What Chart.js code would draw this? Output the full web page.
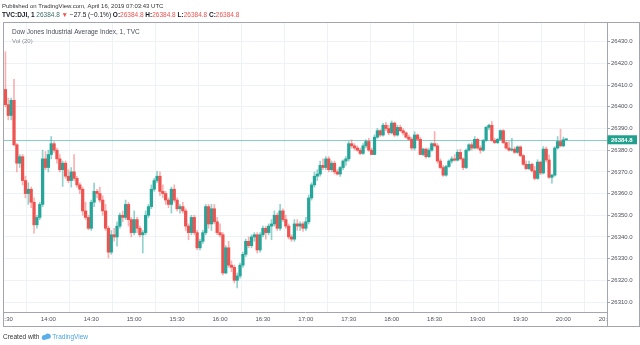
<!DOCTYPE html>
<html>
<head>
<meta charset="utf-8">
<script src="https://cdn.jsdelivr.net/npm/chart.js@4.4.1/dist/chart.umd.min.js"></script>
<style>
  html, body { margin: 0; padding: 0; background: #fff; }
  #c { display: block; }
</style>
</head>
<body>
<canvas id="c" width="640" height="345"></canvas>
<script>
const times = [
  '13:30','13:32','13:34','13:36','13:38','13:40','13:42','13:44','13:46','13:48','13:50','13:52','13:54','13:56','13:58',
  '14:00','14:02','14:04','14:06','14:08','14:10','14:12','14:14','14:16','14:18','14:20','14:22','14:24','14:26','14:28',
  '14:30','14:32','14:34','14:36','14:38','14:40','14:42','14:44','14:46','14:48','14:50','14:52','14:54','14:56','14:58',
  '15:00','15:02','15:04','15:06','15:08','15:10','15:12','15:14','15:16','15:18','15:20','15:22','15:24','15:26','15:28',
  '15:30','15:32','15:34','15:36','15:38','15:40','15:42','15:44','15:46','15:48','15:50','15:52','15:54','15:56','15:58',
  '16:00','16:02','16:04','16:06','16:08','16:10','16:12','16:14','16:16','16:18','16:20','16:22','16:24','16:26','16:28',
  '16:30','16:32','16:34','16:36','16:38','16:40','16:42','16:44','16:46','16:48','16:50','16:52','16:54','16:56','16:58',
  '17:00','17:02','17:04','17:06','17:08','17:10','17:12','17:14','17:16','17:18','17:20','17:22','17:24','17:26','17:28',
  '17:30','17:32','17:34','17:36','17:38','17:40','17:42','17:44','17:46','17:48','17:50','17:52','17:54','17:56','17:58',
  '18:00','18:02','18:04','18:06','18:08','18:10','18:12','18:14','18:16','18:18','18:20','18:22','18:24','18:26','18:28',
  '18:30','18:32','18:34','18:36','18:38','18:40','18:42','18:44','18:46','18:48','18:50','18:52','18:54','18:56','18:58',
  '19:00','19:02','19:04','19:06','19:08','19:10','19:12','19:14','19:16','19:18','19:20','19:22','19:24','19:26','19:28',
  '19:30','19:32','19:34','19:36','19:38','19:40','19:42','19:44','19:46','19:48','19:50','19:52','19:54','19:56','19:58',
  '20:00','20:02'
];

const opens = [
  26408, 26401, 26396, 26403, 26382.5, 26374, 26377, 26366, 26360, 26362,
  26356, 26345.6, 26349, 26355, 26376, 26372, 26378, 26383, 26380, 26376,
  26371, 26374, 26368, 26366, 26370, 26367, 26364, 26362, 26352, 26349,
  26344, 26356, 26361, 26360, 26357, 26352, 26344, 26333, 26341, 26340,
  26345, 26350, 26349, 26355, 26348, 26342, 26348, 26344, 26341, 26342,
  26350, 26354, 26362, 26366, 26368, 26361, 26360, 26357, 26355, 26362,
  26357, 26353, 26354, 26352, 26345, 26342, 26349, 26342, 26335, 26338,
  26342, 26354, 26346, 26353, 26347, 26342, 26341, 26323.4, 26335, 26327,
  26326, 26320, 26322, 26327, 26332, 26338, 26336, 26340, 26341, 26334,
  26341, 26344, 26342, 26345, 26346, 26350, 26344, 26352, 26348, 26345,
  26340, 26339, 26346, 26345, 26346, 26344, 26347, 26358, 26364, 26368,
  26369, 26373, 26372, 26376, 26371, 26374, 26370, 26369, 26372, 26375,
  26376, 26383, 26382, 26381, 26380, 26378.5, 26382, 26384, 26380, 26378,
  26386, 26389, 26387, 26391.5, 26390, 26388, 26392.5, 26387, 26390.5, 26389,
  26388, 26386, 26385, 26381, 26387, 26385, 26378, 26380.5, 26377, 26380,
  26383, 26382, 26375, 26372, 26368.5, 26372.5, 26375, 26376, 26375.4, 26379,
  26376, 26372, 26380, 26382.5, 26381, 26385, 26381, 26380, 26384.5, 26390.5,
  26391.5, 26384.5, 26383.5, 26385, 26389, 26383.5, 26381, 26380, 26380.5, 26379,
  26381.5, 26377.5, 26373.5, 26371.5, 26373.5, 26370.5, 26367, 26374.5, 26369.5, 26380.5,
  26375.5, 26367.5, 26368.5, 26381, 26384, 26382, 26384.8
];

const highs = [
  26425.4, 26404, 26404, 26412.7, 26383, 26378, 26378, 26368, 26365, 26363,
  26358, 26350, 26356, 26380, 26379.4, 26380, 26386.3, 26384, 26381, 26378,
  26375, 26375, 26371, 26372, 26378, 26368, 26365, 26363, 26356, 26350,
  26357, 26364.8, 26362, 26363, 26359, 26355, 26345, 26343, 26344, 26347,
  26351, 26352, 26357, 26356, 26349, 26352, 26349, 26345, 26343, 26352,
  26355, 26364, 26367, 26370.2, 26370, 26364, 26361, 26358, 26363, 26364,
  26358, 26355, 26356, 26353, 26346, 26350, 26350, 26343, 26339, 26343,
  26355, 26355, 26355, 26355, 26349, 26346, 26342, 26336, 26338, 26329,
  26327, 26323.4, 26328, 26333, 26339, 26340, 26341, 26342, 26342, 26342,
  26345, 26345, 26346, 26348, 26352, 26351, 26355, 26353, 26350, 26346,
  26341, 26348, 26348, 26347, 26347, 26349, 26359.4, 26365, 26370, 26371,
  26375, 26376, 26377.1, 26377, 26375, 26375, 26371, 26372.5, 26375.5, 26377,
  26384, 26384.8, 26383, 26382, 26381, 26383, 26384.8, 26385.5, 26381, 26387.1,
  26390.1, 26389.5, 26392.4, 26392.8, 26391.5, 26393.5, 26393, 26391.5, 26391.5, 26390,
  26388.5, 26387, 26386, 26388.5, 26387.5, 26386, 26381, 26381, 26381, 26383.5,
  26388.6, 26383, 26376, 26373, 26373, 26375.6, 26377, 26378, 26380.2, 26380.5,
  26376.5, 26380.5, 26383, 26383.5, 26386.3, 26385.5, 26382, 26385, 26391, 26392,
  26393.2, 26385.5, 26385.5, 26389.4, 26389.5, 26384, 26384, 26385.5, 26381.5, 26382,
  26382, 26378, 26375, 26375, 26374, 26372.5, 26375.6, 26375, 26381.7, 26381.5,
  26377.9, 26369, 26381.7, 26386.3, 26389.7, 26386, 26384.8
];

const lows = [
  26400, 26394, 26394, 26382, 26370, 26372, 26364, 26358, 26355, 26353.5,
  26341.8, 26344, 26348, 26354, 26371, 26370, 26376, 26379, 26374, 26370,
  26363.3, 26367, 26365, 26363, 26366, 26363, 26360, 26350, 26348, 26343.3,
  26343, 26354, 26358, 26356, 26350, 26343, 26330.3, 26332, 26338, 26335.7,
  26344, 26347, 26348, 26345, 26340, 26341, 26342, 26340, 26332.6, 26341,
  26349, 26353, 26361, 26365, 26359, 26358, 26355, 26353.5, 26351, 26356,
  26352, 26351, 26351, 26343, 26338.7, 26341, 26341, 26334.1, 26334, 26337,
  26341, 26344, 26343, 26346, 26341, 26340, 26322.5, 26323, 26326, 26324,
  26318.8, 26316.5, 26321, 26326, 26331, 26335, 26335, 26338, 26332.6, 26333,
  26340, 26339, 26341, 26338.7, 26345, 26343, 26343, 26347, 26344, 26339,
  26338, 26338, 26343, 26343, 26342.6, 26343, 26346, 26357, 26363, 26366,
  26368, 26371, 26371, 26370, 26370, 26369, 26368.5, 26367.9, 26371, 26373,
  26375, 26381, 26380, 26379.5, 26377.9, 26378, 26381, 26379.5, 26377.9, 26377.9,
  26385.5, 26386.3, 26386.5, 26389, 26387.1, 26387.5, 26386.3, 26386.5, 26388.5, 26387,
  26385.5, 26384.5, 26380, 26380, 26384.5, 26377.9, 26377.5, 26376.3, 26376.5, 26379.5,
  26381.5, 26374, 26371.5, 26367.9, 26368, 26372, 26374, 26375, 26375, 26375.5,
  26371, 26371.5, 26379.5, 26380, 26380.5, 26380.5, 26378.6, 26379.5, 26384, 26389.5,
  26384, 26383, 26383, 26384.5, 26383, 26380.5, 26379.5, 26379.5, 26378.5, 26378.5,
  26377, 26373, 26371, 26371, 26370, 26366.3, 26366.5, 26368.7, 26369, 26374.5,
  26367, 26364.8, 26368, 26380.5, 26381.5, 26381.5, 26384.8
];

const closes = [
  26401, 26396, 26403, 26382.5, 26374, 26377, 26366, 26360, 26362, 26356,
  26345.6, 26349, 26355, 26376, 26372, 26378, 26383, 26380, 26376, 26371,
  26374, 26368, 26366, 26370, 26367, 26364, 26362, 26352, 26349, 26344,
  26356, 26361, 26360, 26357, 26352, 26344, 26333, 26341, 26340, 26345,
  26350, 26349, 26355, 26348, 26342, 26348, 26344, 26341, 26342, 26350,
  26354, 26362, 26366, 26368, 26361, 26360, 26357, 26355, 26362, 26357,
  26353, 26354, 26352, 26345, 26342, 26349, 26342, 26335, 26338, 26342,
  26354, 26346, 26353, 26347, 26342, 26341, 26323.4, 26335, 26327, 26326,
  26320, 26322, 26327, 26332, 26338, 26336, 26340, 26341, 26334, 26341,
  26344, 26342, 26345, 26346, 26350, 26344, 26352, 26348, 26345, 26340,
  26339, 26346, 26345, 26346, 26344, 26347, 26358, 26364, 26368, 26369,
  26373, 26372, 26376, 26371, 26374, 26370, 26369, 26372, 26375, 26376,
  26383, 26382, 26381, 26380, 26378.5, 26382, 26384, 26380, 26378, 26386,
  26389, 26387, 26391.5, 26390, 26388, 26392.5, 26387, 26390.5, 26389, 26388,
  26386, 26385, 26381, 26387, 26385, 26378, 26380.5, 26377, 26380, 26383,
  26382, 26375, 26372, 26368.5, 26372.5, 26375, 26376, 26375.4, 26379, 26376,
  26372, 26380, 26382.5, 26381, 26385, 26381, 26380, 26384.5, 26390.5, 26391.5,
  26384.5, 26383.5, 26385, 26389, 26383.5, 26381, 26380, 26380.5, 26379, 26381.5,
  26377.5, 26373.5, 26371.5, 26373.5, 26370.5, 26367, 26374.5, 26369.5, 26380.5, 26375.5,
  26367.5, 26368.5, 26381, 26384, 26382, 26384.8, 26384.8
];

const xTickLabels = ['13:30','14:00','14:30','15:00','15:30','16:00','16:30','17:00','17:30','18:00','18:30','19:00','19:30','20:00','20:30'];
const yTicks = [26310, 26320, 26330, 26340, 26350, 26360, 26370, 26380, 26390, 26400, 26410, 26420, 26430];
const lastPrice = 26384.8;
const change = '\u221227.5 (\u22120.1%)';

const UP = '#26a69a';
const DOWN = '#ef5350';
const UP_WICK = 'rgba(38,166,154,0.5)';
const DOWN_WICK = 'rgba(239,83,80,0.45)';
const GRID = '#eef2f7';
const AXIS = '#a3a6af';
const FONT = '"Liberation Sans", Arial, sans-serif';

function toMin(s) {
  const p = s.split(':');
  return +p[0] * 60 + +p[1];
}

const xs = times.map(toMin);
const wickData = xs.map((x, i) => ({ x: x, y: [lows[i], highs[i]] }));
const bodyData = xs.map((x, i) => ({ x: x, y: [opens[i], closes[i]] }));
const isUp = opens.map((o, i) => closes[i] >= o);

function text(ctx, s, x, y, font, color, align) {
  ctx.font = font;
  ctx.fillStyle = color;
  ctx.textAlign = align || 'left';
  ctx.textBaseline = 'middle';
  ctx.fillText(s, x, y);
  return ctx.measureText(s).width;
}

const decor = {
  id: 'decor',
  beforeDatasetsDraw(chart) {
    const ctx = chart.ctx;
    const a = chart.chartArea;
    const y = Math.round(chart.scales.y.getPixelForValue(lastPrice)) + 0.5;
    ctx.save();
    ctx.strokeStyle = 'rgba(38,166,154,0.55)';
    ctx.lineWidth = 1;
    ctx.beginPath();
    ctx.moveTo(a.left, y);
    ctx.lineTo(a.right, y);
    ctx.stroke();
    ctx.restore();
  },
  afterDraw(chart) {
    const ctx = chart.ctx;
    const a = chart.chartArea;
    const xs = chart.scales.x;
    const ys = chart.scales.y;
    ctx.save();

    // header
    text(ctx, 'Published on TradingView.com, April 16, 2019 07:03:43 UTC', 2, 6, '6px ' + FONT, '#333');
    let x = 2;
    const segs = [
      ['TVC:DJI, 1 ', 'bold', '#131722'],
      [lastPrice.toFixed(1) + ' ', '', '#3f6f6a'],
      ['\u25BC ', '', DOWN],
      [change + ' ', '', '#131722'],
      ['O:', 'bold', '#131722'], [lastPrice.toFixed(1) + ' ', '', DOWN],
      ['H:', 'bold', '#131722'], [lastPrice.toFixed(1) + ' ', '', DOWN],
      ['L:', 'bold', '#131722'], [lastPrice.toFixed(1) + ' ', '', DOWN],
      ['C:', 'bold', '#131722'], [lastPrice.toFixed(1), '', DOWN]
    ];
    segs.forEach(s => { x += text(ctx, s[0], x, 15.5, (s[1] ? s[1] + ' ' : '') + '6.5px ' + FONT, s[2]); });

    // legend inside pane
    text(ctx, 'Dow Jones Industrial Average Index, 1, TVC', 12, 32, '6.5px ' + FONT, '#4a4e59');
    text(ctx, 'Vol (20)', 12, 41.5, '6px ' + FONT, '#8a8d96');

    // time labels, clipped to the pane
    ctx.save();
    ctx.beginPath();
    ctx.rect(a.left, a.bottom, a.right - a.left, 15);
    ctx.clip();
    xTickLabels.forEach(t => {
      text(ctx, t, xs.getPixelForValue(toMin(t)), 319.5, '6px ' + FONT, '#50535e', 'center');
    });
    ctx.restore();

    // outer frame and price-axis separator in the time band
    ctx.strokeStyle = AXIS;
    ctx.lineWidth = 1;
    ctx.strokeRect(3.5, 22.5, 636, 304);
    ctx.beginPath();
    ctx.moveTo(Math.round(a.right) + 0.5, a.bottom);
    ctx.lineTo(Math.round(a.right) + 0.5, 327);
    ctx.stroke();

    // last price tag
    const py = ys.getPixelForValue(lastPrice);
    ctx.fillStyle = '#22a08e';
    ctx.fillRect(607.5, py - 4.5, 29.5, 9);
    text(ctx, lastPrice.toFixed(1), 611, py + 0.5, 'bold 6px ' + FONT, '#fff');

    // footer
    let fx = 3;
    fx += text(ctx, 'Created with ', fx, 337, '6.5px ' + FONT, '#333');
    ctx.fillStyle = '#5aafe8';
    ctx.beginPath();
    ctx.arc(fx + 3, 337.5, 2.5, Math.PI * 0.6, Math.PI * 1.9);
    ctx.arc(fx + 6.5, 336.5, 3, Math.PI * 1.1, Math.PI * 0.2);
    ctx.lineTo(fx + 3, 340);
    ctx.closePath();
    ctx.fill();
    text(ctx, 'TradingView', fx + 11, 337, '6.5px ' + FONT, '#4ba3e3');
    ctx.restore();
  }
};

new Chart(document.getElementById('c'), {
  type: 'bar',
  data: {
    datasets: [
      {
        data: wickData,
        backgroundColor: isUp.map(u => u ? UP_WICK : DOWN_WICK),
        barThickness: 1,
        grouped: false,
        order: 2
      },
      {
        data: bodyData,
        backgroundColor: isUp.map(u => u ? UP : DOWN),
        barThickness: 2.6,
        minBarLength: 1,
        grouped: false,
        order: 1
      }
    ]
  },
  options: {
    responsive: false,
    animation: false,
    layout: { padding: { left: 3, top: 22, right: 0, bottom: 18 } },
    plugins: { legend: { display: false }, tooltip: { enabled: false } },
    scales: {
      x: {
        type: 'linear',
        min: 808.3,
        max: 1230.5,
        offset: false,
        afterBuildTicks: s => { s.ticks = xTickLabels.map(t => ({ value: toMin(t) })); },
        afterFit: s => { s.height = 15; },
        ticks: { display: false },
        grid: { color: GRID, drawTicks: false },
        border: { color: AXIS }
      },
      y: {
        position: 'right',
        min: 26305.4,
        max: 26439.1,
        afterBuildTicks: s => { s.ticks = yTicks.map(v => ({ value: v })); },
        afterFit: s => { s.width = 33; },
        ticks: {
          padding: 1,
          color: '#50535e',
          font: { size: 6, family: FONT },
          callback: v => Number(v).toFixed(1)
        },
        grid: { color: GRID, tickLength: 3, tickColor: AXIS },
        border: { color: AXIS }
      }
    }
  },
  plugins: [decor]
});
</script>
</body>
</html>
